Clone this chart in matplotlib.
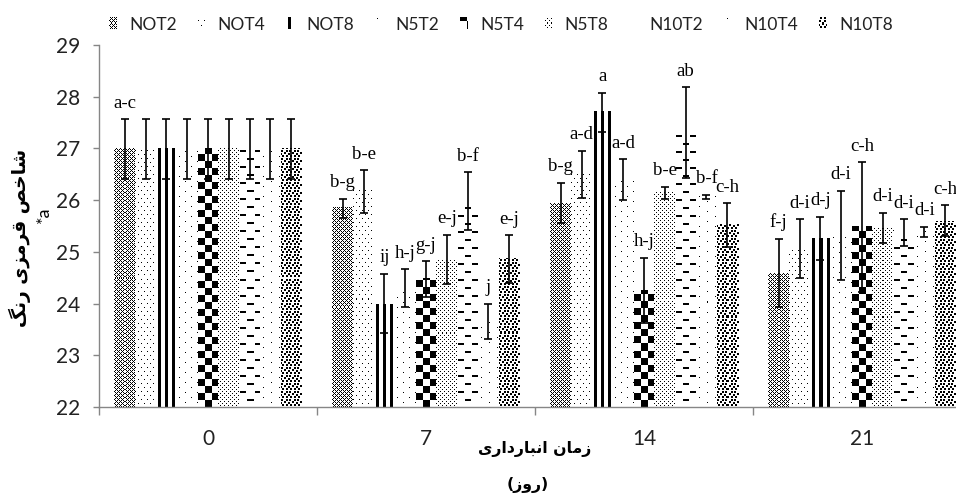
import numpy as np
import matplotlib
matplotlib.use("Agg")
import matplotlib.pyplot as plt
from matplotlib.patches import Patch
from matplotlib.legend_handler import HandlerBase
from matplotlib.image import BboxImage
from matplotlib.transforms import Bbox, TransformedBbox
from matplotlib.colors import Normalize


days = ["0", "7", "14", "21"]
treatments = ["NOT2", "NOT4", "NOT8", "N5T2", "N5T4", "N5T8", "N10T2", "N10T4", "N10T8"]

# mean a* value per storage day (0, 7, 14, 21)
not2 = [26.98, 25.84, 25.95, 24.59]
not4 = [26.98, 26.17, 26.50, 25.06]
not8 = [26.98, 24.00, 27.70, 25.26]
n5t2 = [26.98, 24.30, 26.40, 25.32]
n5t4 = [26.98, 24.47, 24.25, 25.48]
n5t8 = [26.98, 24.85, 26.14, 25.46]
n10t2 = [26.98, 25.98, 27.30, 25.37]
n10t4 = [26.98, 23.65, 26.06, 25.38]
n10t8 = [26.98, 24.86, 25.52, 25.60]

not2_err = [0.58, 0.19, 0.39, 0.66]
not4_err = [0.58, 0.41, 0.45, 0.57]
not8_err = [0.58, 0.57, 0.38, 0.42]
n5t2_err = [0.58, 0.36, 0.39, 0.86]
n5t4_err = [0.58, 0.35, 0.63, 1.25]
n5t8_err = [0.58, 0.48, 0.12, 0.29]
n10t2_err = [0.58, 0.56, 0.88, 0.26]
n10t4_err = [0.58, 0.34, 0.04, 0.10]
n10t8_err = [0.58, 0.46, 0.42, 0.30]

not2_letters = ["a-c", "b-g", "b-g", "f-j"]
not4_letters = ["", "b-e", "a-d", "d-i"]
not8_letters = ["", "ij", "a", "d-j"]
n5t2_letters = ["", "h-j", "a-d", "d-i"]
n5t4_letters = ["", "g-j", "h-j", "c-h"]
n5t8_letters = ["", "e-j", "b-e", "d-i"]
n10t2_letters = ["", "b-f", "ab", "d-i"]
n10t4_letters = ["", "j", "b-f", "d-i"]
n10t8_letters = ["", "e-j", "c-h", "c-h"]

means = [not2, not4, not8, n5t2, n5t4, n5t8, n10t2, n10t4, n10t8]
errors = [not2_err, not4_err, not8_err, n5t2_err, n5t4_err, n5t8_err,
          n10t2_err, n10t4_err, n10t8_err]
letters = [not2_letters, not4_letters, not8_letters, n5t2_letters, n5t4_letters,
           n5t8_letters, n10t2_letters, n10t4_letters, n10t8_letters]

y_label = "شاخص قرمزی رنگ"
x_label = "زمان انبارداری"
x_unit = "روز"


# --- pixel fill patterns, one small tile per treatment ---------------------
def _tile_diamond():
    r, c = np.indices((4, 4))
    return (((r + c) % 4 == 0) | ((r - c) % 4 == 0)).astype(float)


def _tile_dots(h, w, points):
    t = np.zeros((h, w))
    for r, c in points:
        t[r, c] = 1
    return t


def _tile_checker(n):
    t = np.zeros((2 * n, 2 * n))
    t[:n, :n] = 1
    t[n:, n:] = 1
    return t


def _tile_dashes():
    t = np.zeros((16, 14))
    t[0:2, 1:7] = 1
    t[8:10, 8:14] = 1
    return t


TILES = {
    "NOT2": _tile_diamond(),
    "NOT4": _tile_dots(8, 6, [(0, 0), (4, 3)]),
    "NOT8": np.array([[0, 0, 1, 1, 1, 0, 0]], dtype=float),
    "N5T2": _tile_dots(10, 12, [(0, 2), (5, 8)]),
    "N5T4": _tile_checker(7),
    "N5T8": _tile_dots(4, 4, [(0, 0), (2, 2)]),
    "N10T2": _tile_dashes(),
    "N10T4": _tile_dots(10, 16, [(0, 3), (5, 11)]),
    "N10T8": np.array([
        [1, 1, 0, 0, 0, 1, 1, 0],
        [1, 1, 0, 0, 0, 1, 1, 0],
        [0, 0, 0, 1, 1, 0, 0, 0],
        [1, 0, 0, 1, 1, 0, 0, 1],
        [1, 0, 0, 0, 0, 0, 0, 1],
        [0, 1, 1, 0, 0, 1, 1, 0],
        [0, 1, 1, 0, 0, 1, 1, 0],
        [0, 0, 0, 0, 0, 0, 0, 0],
    ], dtype=float),
}


def texture(name, h, w):
    tile = TILES[name]
    reps = (h // tile.shape[0] + 2, w // tile.shape[1] + 2)
    return np.tile(tile, reps)[-h:, :w] if h > 0 else np.zeros((1, max(w, 1)))


# --- minimal Persian shaping (matplotlib draws glyphs left to right) -------
FORMS = {  # isolated, final, initial, medial
    "ا": ("\uFE8D", "\uFE8E", None, None),
    "ب": ("\uFE8F", "\uFE90", "\uFE91", "\uFE92"),
    "خ": ("\uFEA5", "\uFEA6", "\uFEA7", "\uFEA8"),
    "د": ("\uFEA9", "\uFEAA", None, None),
    "ر": ("\uFEAD", "\uFEAE", None, None),
    "ز": ("\uFEAF", "\uFEB0", None, None),
    "ش": ("\uFEB5", "\uFEB6", "\uFEB7", "\uFEB8"),
    "ص": ("\uFEB9", "\uFEBA", "\uFEBB", "\uFEBC"),
    "ق": ("\uFED5", "\uFED6", "\uFED7", "\uFED8"),
    "م": ("\uFEE1", "\uFEE2", "\uFEE3", "\uFEE4"),
    "ن": ("\uFEE5", "\uFEE6", "\uFEE7", "\uFEE8"),
    "و": ("\uFEED", "\uFEEE", None, None),
    "ی": ("\uFEEF", "\uFEF0", "\uFEF3", "\uFEF4"),
    "گ": ("\uFB92", "\uFB93", "\uFB94", "\uFB95"),
}


def shape_rtl(text):
    out = []
    for i, ch in enumerate(text):
        if ch not in FORMS:
            out.append(ch)
            continue
        prev = text[i - 1] if i > 0 else ""
        nxt = text[i + 1] if i + 1 < len(text) else ""
        joins_prev = prev in FORMS and FORMS[prev][2] is not None
        joins_next = FORMS[ch][2] is not None and nxt in FORMS
        iso, fin, ini, med = FORMS[ch]
        if joins_prev and joins_next:
            out.append(med)
        elif joins_prev:
            out.append(fin)
        elif joins_next:
            out.append(ini)
        else:
            out.append(iso)
    mirror = {"(": ")", ")": "("}
    return "".join(mirror.get(c, c) for c in reversed(out))


class TextureHandler(HandlerBase):
    def create_artists(self, legend, orig_handle, xdescent, ydescent,
                       width, height, fontsize, trans):
        bbox = TransformedBbox(Bbox.from_bounds(-xdescent, -ydescent, width, height), trans)
        img = BboxImage(bbox, cmap="gray_r", norm=Normalize(0, 1), interpolation="nearest")
        dpi = legend.figure.dpi
        img.set_data(texture(orig_handle.get_gid(),
                             max(int(round(height * dpi / 72)), 1),
                             max(int(round(width * dpi / 72)), 1)))
        return [img]


GRAY = "#868686"
fig = plt.figure(figsize=(9.56, 4.94), dpi=100)
ax = fig.add_axes([99 / 956, 87 / 494, 872 / 956, 362 / 494])
ax.set_xlim(-0.5, 3.5)
ax.set_ylim(22, 29)

x = np.arange(len(days))
bw = 0.0955
inv = ax.transData.inverted()
for i, name in enumerate(treatments):
    pos = x + (i - 4) * bw
    bars = ax.bar(pos, means[i], bw, color="white", linewidth=0, zorder=1)
    for bar in bars:
        px0, py0 = ax.transData.transform((bar.get_x(), 22))
        px1, py1 = ax.transData.transform((bar.get_x() + bar.get_width(), bar.get_height()))
        px0, px1, py0, py1 = round(px0), round(px1), round(py0), round(py1)
        ex0, ey0 = inv.transform((px0, py0))
        ex1, ey1 = inv.transform((px1, py1))
        ax.imshow(texture(name, py1 - py0, px1 - px0), extent=(ex0, ex1, ey0, ey1),
                  origin="upper", cmap="gray_r", vmin=0, vmax=1,
                  interpolation="nearest", aspect="auto", zorder=2)
    ax.errorbar(pos, means[i], yerr=errors[i], fmt="none", ecolor="black",
                elinewidth=1.2, capsize=3.0, capthick=1.2, zorder=4)
    for xp, v, e, lab in zip(pos, means[i], errors[i], letters[i]):
        if lab:
            ax.annotate(lab, (xp, v + e), xytext=(0, 5.5), textcoords="offset points",
                        ha="center", va="bottom", family="Liberation Serif",
                        fontsize=13.5, zorder=5)

ax.set_xlim(-0.5, 3.5)
ax.set_ylim(22, 29)

for side in ("top", "right"):
    ax.spines[side].set_visible(False)
for side in ("left", "bottom"):
    ax.spines[side].set_color(GRAY)
    ax.spines[side].set_linewidth(1.0)

ax.set_yticks(range(22, 30))
ax.tick_params(axis="y", direction="out", length=4.5, width=1, color=GRAY,
               labelsize=15, pad=9)
ax.set_xticks(np.arange(-0.5, len(days), 1.0))
ax.set_xticklabels([])
ax.set_xticks(x, minor=True)
ax.set_xticklabels(days, minor=True)
ax.tick_params(axis="x", which="major", direction="out", length=5.5, width=1, color=GRAY)
ax.tick_params(axis="x", which="minor", length=0, labelsize=15, pad=16)
for lab in ax.get_yticklabels() + ax.get_xticklabels(minor=True):
    lab.set_family("Lato")
    lab.set_color("#222222")

fig.text(20 / 956, 1 - 238 / 494, shape_rtl(y_label), rotation=90, ha="center", va="center",
         family="DejaVu Sans", fontweight="bold", fontsize=13.4)
fig.text(44 / 956, 1 - 215 / 494, "*a", rotation=90, ha="center", va="center",
         family="Lato", fontsize=13)
fig.text(535 / 956, 1 - 449 / 494, shape_rtl(x_label), ha="center", va="center",
         family="DejaVu Sans", fontweight="bold", fontsize=11.3)
fig.text(528 / 956, 1 - 485 / 494, shape_rtl("(" + x_unit + ")"), ha="center", va="center",
         family="DejaVu Sans", fontweight="bold", fontsize=11.3)

handles = []
for name in treatments:
    h = Patch(label=name)
    h.set_gid(name)
    handles.append(h)
leg = fig.legend(handles=handles, labels=treatments, loc="center",
                 bbox_to_anchor=(0.524, 1 - 25 / 494), ncol=9, frameon=False,
                 handlelength=0.46, handleheight=0.6, handletextpad=0.7,
                 columnspacing=1.2, prop={"family": "Lato", "size": 12.5},
                 handler_map={Patch: TextureHandler()})
for t in leg.get_texts():
    t.set_color("#222222")

fig.savefig("out.png", dpi=100, facecolor="white")
